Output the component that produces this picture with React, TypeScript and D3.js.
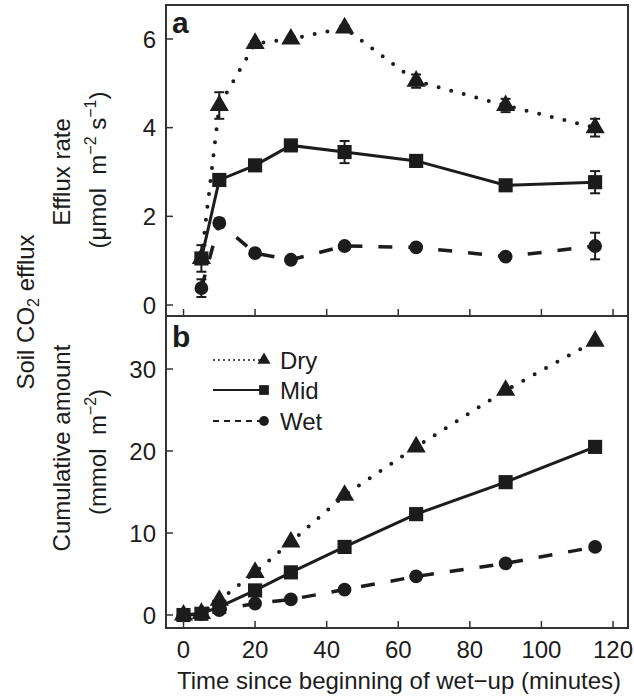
import { useEffect, useRef } from "react";
import * as d3 from "d3";

// time points (minutes)
const rateTimes = [5, 10, 20, 30, 45, 65, 90, 115];
const cumTimes = [0, 5, 10, 20, 30, 45, 65, 90, 115];

// efflux rate (umol m-2 s-1)
const dryRate = [1.05, 4.5, 5.9, 6.0, 6.25, 5.05, 4.5, 4.0];
const midRate = [1.05, 2.82, 3.15, 3.6, 3.45, 3.25, 2.7, 2.77];
const wetRate = [0.38, 1.85, 1.17, 1.02, 1.33, 1.3, 1.09, 1.33];
const dryRateErr = [0.1, 0.3, 0.05, 0.05, 0.05, 0.15, 0.15, 0.2];
const midRateErr = [0.3, 0.1, 0.05, 0.05, 0.25, 0.1, 0.05, 0.25];
const wetRateErr = [0.2, 0.1, 0.05, 0.05, 0.05, 0.05, 0.05, 0.3];

// cumulative amount (mmol m-2)
const dryCum = [0, 0.2, 1.8, 5.2, 8.9, 14.6, 20.5, 27.4, 33.4];
const midCum = [0, 0.15, 1.0, 3.0, 5.2, 8.3, 12.3, 16.2, 20.5];
const wetCum = [0, 0.1, 0.6, 1.4, 1.9, 3.1, 4.7, 6.3, 8.3];

const xTicks = [0, 20, 40, 60, 80, 100, 120];
const rateTicks = [0, 2, 4, 6];
const cumTicks = [0, 10, 20, 30];
const seriesNames = ["Dry", "Mid", "Wet"];

const INK = "#1c1c1c";
const FONT = "'Liberation Sans', Arial, sans-serif";
const FS = 24;

const App = () => {
  const ref = useRef<SVGSVGElement | null>(null);

  useEffect(() => {
    if (!ref.current) return;
    const svg = d3.select(ref.current);
    svg.selectAll("*").remove();

    const left = 166;
    const right = 628;
    const topA = 5;
    const mid = 316;
    const bottomB = 628;

    const x = d3.scaleLinear().domain([0, 120]).range([183.5, 613]);
    const yA = d3.scaleLinear().domain([0, 6]).range([305, 39]);
    const yB = d3.scaleLinear().domain([0, 30]).range([615, 369]);

    const styles = [
      { sym: d3.symbolTriangle, size: 160, dash: "0 13", width: 4, cap: "round" },
      { sym: d3.symbolSquare, size: 200, dash: null, width: 3, cap: "butt" },
      { sym: d3.symbolCircle, size: 150, dash: "14 16", width: 3.5, cap: "butt" },
    ];

    const drawPanel = (
      y: d3.ScaleLinear<number, number>,
      times: number[],
      series: number[][],
      errs: number[][] | null
    ) => {
      series.forEach((vals, i) => {
        const st = styles[i];
        const pts = times.map((t, j) => [x(t), y(vals[j])] as [number, number]);
        const path = svg
          .append("path")
          .attr("d", d3.line()(pts))
          .attr("fill", "none")
          .attr("stroke", INK)
          .attr("stroke-width", st.width)
          .attr("stroke-linecap", st.cap);
        if (st.dash) path.attr("stroke-dasharray", st.dash);

        if (errs) {
          times.forEach((t, j) => {
            const e = errs[i][j];
            const cx = x(t);
            const y1 = y(vals[j] - e);
            const y2 = y(vals[j] + e);
            svg.append("line").attr("x1", cx).attr("x2", cx).attr("y1", y1).attr("y2", y2)
              .attr("stroke", INK).attr("stroke-width", 2);
            [y1, y2].forEach((yy) =>
              svg.append("line").attr("x1", cx - 5).attr("x2", cx + 5).attr("y1", yy).attr("y2", yy)
                .attr("stroke", INK).attr("stroke-width", 2)
            );
          });
        }

        const sym = d3.symbol().type(st.sym).size(st.size);
        times.forEach((t, j) => {
          svg.append("path")
            .attr("d", sym())
            .attr("transform", `translate(${x(t)},${y(vals[j])})`)
            .attr("fill", INK);
        });
      });
    };

    drawPanel(yA, rateTimes, [dryRate, midRate, wetRate], [dryRateErr, midRateErr, wetRateErr]);
    drawPanel(yB, cumTimes, [dryCum, midCum, wetCum], null);

    // frames
    const frame = (y0: number, y1: number) =>
      svg.append("rect").attr("x", left).attr("y", y0).attr("width", right - left).attr("height", y1 - y0)
        .attr("fill", "none").attr("stroke", "#333").attr("stroke-width", 2);
    frame(topA, mid);
    frame(mid, bottomB);

    // ticks (inward)
    [mid - 1, bottomB - 1].forEach((yy) => {
      xTicks.forEach((t) => {
        svg.append("line").attr("x1", x(t)).attr("x2", x(t)).attr("y1", yy).attr("y2", yy - 6)
          .attr("stroke", "#333").attr("stroke-width", 1.5);
      });
    });
    const yTicks = (y: d3.ScaleLinear<number, number>, ticks: number[]) => {
      ticks.forEach((v) => {
        svg.append("line").attr("x1", left).attr("x2", left + 7).attr("y1", y(v)).attr("y2", y(v))
          .attr("stroke", "#333").attr("stroke-width", 1.5);
        svg.append("text").attr("x", 156).attr("y", y(v) + 8.5).attr("text-anchor", "end")
          .attr("font-family", FONT).attr("font-size", FS).attr("fill", INK).text(v);
      });
    };
    yTicks(yA, rateTicks);
    yTicks(yB, cumTicks);

    xTicks.forEach((t) => {
      svg.append("text").attr("x", x(t)).attr("y", 658).attr("text-anchor", "middle")
        .attr("font-family", FONT).attr("font-size", FS).attr("fill", INK).text(t);
    });

    svg.append("text").attr("x", 399).attr("y", 689).attr("text-anchor", "middle")
      .attr("font-family", FONT).attr("font-size", FS).attr("fill", INK)
      .text("Time since beginning of wet\u2212up (minutes)");

    // panel letters
    svg.append("text").attr("x", 172).attr("y", 33).attr("font-family", FONT).attr("font-weight", "bold")
      .attr("font-size", 30).attr("fill", INK).text("a");
    svg.append("text").attr("x", 172).attr("y", 347).attr("font-family", FONT).attr("font-weight", "bold")
      .attr("font-size", 30).attr("fill", INK).text("b");

    // y titles
    const vtext = (cx: number, cy: number) =>
      svg.append("text").attr("transform", `translate(${cx},${cy}) rotate(-90)`).attr("text-anchor", "middle")
        .attr("font-family", FONT).attr("font-size", FS).attr("fill", INK);

    const t1 = vtext(34, 312);
    t1.append("tspan").text("Soil CO");
    t1.append("tspan").attr("font-size", 16).attr("dy", 5).text("2");
    t1.append("tspan").attr("dy", -5).text(" efflux");

    vtext(70, 172).text("Efflux rate");
    const t2 = vtext(106, 170);
    t2.append("tspan").text("(\u03bcmol\u00a0 m");
    t2.append("tspan").attr("font-size", 16).attr("dy", -10).text("\u22122");
    t2.append("tspan").attr("dy", 10).text("\u00a0s");
    t2.append("tspan").attr("font-size", 16).attr("dy", -10).text("\u22121");
    t2.append("tspan").attr("dy", 10).text(")");

    vtext(70, 448).text("Cumulative amount");
    const t3 = vtext(106, 452);
    t3.append("tspan").text("(mmol\u00a0 m");
    t3.append("tspan").attr("font-size", 16).attr("dy", -10).text("\u22122");
    t3.append("tspan").attr("dy", 10).text(")");

    // legend
    const legendY = [360, 390, 421];
    const legendStyles = [
      { dash: "2 3", width: 1.6, size: 75 },
      { dash: null, width: 2.2, size: 95 },
      { dash: "6 5", width: 2, size: 75 },
    ];
    seriesNames.forEach((name, i) => {
      const ly = legendY[i];
      const ls = legendStyles[i];
      const l = svg.append("line").attr("x1", 213).attr("x2", 262).attr("y1", ly).attr("y2", ly)
        .attr("stroke", INK).attr("stroke-width", ls.width);
      if (ls.dash) l.attr("stroke-dasharray", ls.dash);
      svg.append("path").attr("d", d3.symbol().type(styles[i].sym).size(ls.size)())
        .attr("transform", `translate(264,${ly})`).attr("fill", INK);
      svg.append("text").attr("x", 280).attr("y", ly + 8.5).attr("font-family", FONT).attr("font-size", FS)
        .attr("fill", INK).text(name);
    });
  }, []);

  return (
    <svg
      ref={ref}
      width={634}
      height={696}
      style={{ position: "absolute", left: 0, top: 0, background: "#fff" }}
    ></svg>
  );
};

export default App;
